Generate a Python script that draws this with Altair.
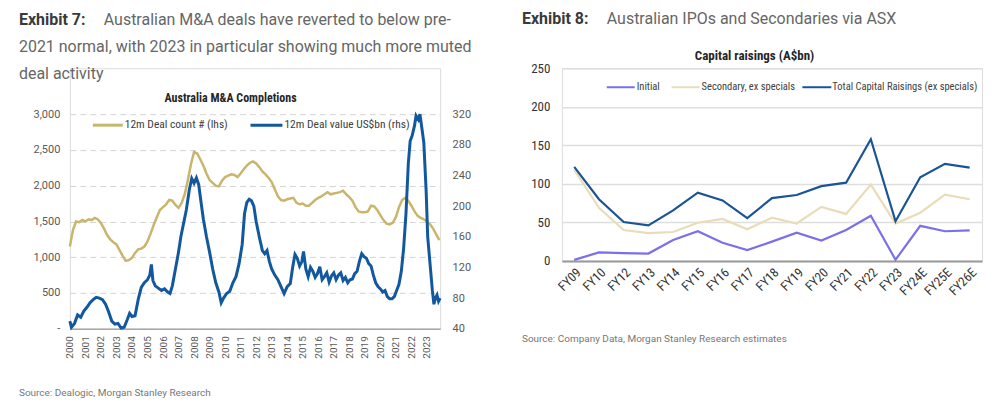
import altair as alt
import pandas as pd

# ---------------------------------------------------------------------------
# Exhibit 7: Australia M&A completions (rolling 12 months)
# ---------------------------------------------------------------------------
count_year = [
    2000.0, 2000.2, 2000.4, 2000.6, 2000.8, 2001.0, 2001.2, 2001.4, 2001.6, 2001.8,
    2002.0, 2002.2, 2002.4, 2002.6, 2002.8, 2003.0, 2003.2, 2003.4, 2003.6, 2003.8,
    2004.0, 2004.2, 2004.4, 2004.6, 2004.8, 2005.0, 2005.2, 2005.4, 2005.6, 2005.8,
    2006.0, 2006.2, 2006.4, 2006.6, 2006.8, 2007.0, 2007.2, 2007.4, 2007.6, 2007.8,
    2008.0, 2008.2, 2008.4, 2008.6, 2008.8, 2009.0, 2009.2, 2009.4, 2009.6, 2009.8,
    2010.0, 2010.2, 2010.4, 2010.6, 2010.8, 2011.0, 2011.2, 2011.4, 2011.6, 2011.8,
    2012.0, 2012.2, 2012.4, 2012.6, 2012.8, 2013.0, 2013.2, 2013.4, 2013.6, 2013.8,
    2014.0, 2014.2, 2014.4, 2014.6, 2014.8, 2015.0, 2015.2, 2015.4, 2015.6, 2015.8,
    2016.0, 2016.2, 2016.4, 2016.6, 2016.8, 2017.0, 2017.2, 2017.4, 2017.6, 2017.8,
    2018.0, 2018.2, 2018.4, 2018.6, 2018.8, 2019.0, 2019.2, 2019.4, 2019.6, 2019.8,
    2020.0, 2020.2, 2020.4, 2020.6, 2020.8, 2021.0, 2021.2, 2021.4, 2021.6, 2021.8,
    2022.0, 2022.2, 2022.4, 2022.6, 2022.8, 2023.0, 2023.2, 2023.4, 2023.6, 2023.8,
]
deal_count = [
    1150, 1380, 1500, 1490, 1520, 1500, 1530, 1520, 1550, 1530,
    1480, 1400, 1310, 1250, 1210, 1180, 1100, 1020, 950, 960,
    990, 1060, 1110, 1120, 1150, 1220, 1330, 1450, 1560, 1660,
    1700, 1740, 1800, 1790, 1730, 1690, 1760, 1880, 2080, 2300,
    2470, 2450, 2370, 2280, 2170, 2080, 2040, 2000, 1990, 2070,
    2120, 2140, 2160, 2150, 2120, 2170, 2230, 2280, 2320, 2340,
    2310, 2260, 2200, 2160, 2110, 2050, 1950, 1850, 1800, 1790,
    1810, 1820, 1830, 1760, 1740, 1750, 1720, 1720, 1760, 1800,
    1830, 1850, 1880, 1910, 1880, 1890, 1900, 1910, 1930, 1880,
    1840, 1790, 1700, 1640, 1630, 1630, 1640, 1720, 1710, 1660,
    1590, 1520, 1470, 1460, 1480, 1560, 1700, 1800, 1830, 1790,
    1720, 1640, 1580, 1550, 1530, 1500, 1460, 1400, 1320, 1240,
]

value_year = [
    2000.0, 2000.1, 2000.3, 2000.5, 2000.7, 2000.9, 2001.1, 2001.3, 2001.5, 2001.7,
    2001.9, 2002.1, 2002.3, 2002.5, 2002.7, 2002.9, 2003.1, 2003.3, 2003.5, 2003.7,
    2003.85, 2004.0, 2004.2, 2004.4, 2004.6, 2004.8, 2005.0, 2005.15, 2005.25, 2005.35,
    2005.5, 2005.7, 2005.9, 2006.1, 2006.3, 2006.45, 2006.6, 2006.8, 2007.0, 2007.15,
    2007.3, 2007.5, 2007.7, 2007.85, 2008.0, 2008.15, 2008.3, 2008.45, 2008.6, 2008.8,
    2009.0, 2009.2, 2009.4, 2009.6, 2009.75, 2009.9, 2010.1, 2010.3, 2010.5, 2010.7,
    2010.9, 2011.1, 2011.25, 2011.4, 2011.55, 2011.7, 2011.85, 2012.0, 2012.2, 2012.4,
    2012.55, 2012.7, 2012.85, 2013.0, 2013.2, 2013.4, 2013.6, 2013.8, 2014.0, 2014.2,
    2014.35, 2014.5, 2014.65, 2014.8, 2014.95, 2015.05, 2015.2, 2015.35, 2015.5, 2015.65,
    2015.8, 2015.95, 2016.1, 2016.25, 2016.4, 2016.55, 2016.7, 2016.85, 2017.0, 2017.15,
    2017.3, 2017.45, 2017.6, 2017.75, 2017.9, 2018.05, 2018.2, 2018.35, 2018.5, 2018.65,
    2018.8, 2018.95, 2019.1, 2019.25, 2019.4, 2019.55, 2019.7, 2019.85, 2020.0, 2020.15,
    2020.3, 2020.45, 2020.6, 2020.75, 2020.9, 2021.05, 2021.2, 2021.35, 2021.5, 2021.65,
    2021.8, 2021.92, 2022.05, 2022.2, 2022.3, 2022.45, 2022.55, 2022.7, 2022.8, 2022.95,
    2023.05, 2023.2, 2023.35, 2023.45, 2023.55, 2023.65, 2023.75, 2023.85,
]
deal_value = [
    50, 42, 47, 58, 55, 63, 68, 74, 78, 81,
    80, 78, 72, 62, 50, 46, 47, 41, 42, 52,
    60, 56, 57, 78, 94, 100, 104, 110, 124, 103,
    96, 93, 90, 92, 88, 86, 96, 118, 140, 160,
    175, 195, 222, 236, 230, 237, 228, 205, 183, 160,
    140, 118, 100, 88, 74, 80, 86, 89, 100, 108,
    125, 150, 190, 205, 209, 207, 200, 180, 160, 142,
    138, 142, 128, 118, 110, 104, 95, 86, 95, 99,
    120, 137, 132, 122, 128, 141, 118, 108, 120, 115,
    107, 112, 121, 104, 108, 113, 101, 109, 113, 104,
    110, 113, 103, 107, 100, 104, 105, 112, 115, 128,
    138, 134, 132, 125, 122, 110, 100, 95, 92, 88,
    90, 82, 79, 79, 82, 90, 98, 115, 145, 190,
    255, 285, 292, 305, 318, 313, 320, 298, 283, 220,
    160, 125, 90, 72, 80, 84, 76, 80,
]
year_ticks = list(range(2000, 2024))
count_ticks = [0, 500, 1000, 1500, 2000, 2500, 3000]
value_ticks = [40, 80, 120, 160, 200, 240, 280, 320]

# ---------------------------------------------------------------------------
# Exhibit 8: ASX capital raisings (A$bn)
# ---------------------------------------------------------------------------
fy_labels = ["FY09", "FY10", "FY12", "FY13", "FY14", "FY15", "FY16", "FY17", "FY18",
             "FY19", "FY20", "FY21", "FY22", "FY23", "FY24E", "FY25E", "FY26E"]
initial = [1.3, 11, 10, 9.5, 27, 38.5, 23.5, 14, 25, 36.5, 26.5, 40, 58.5, 1.5, 45.5, 38.5, 39.5]
secondary = [118.5, 69, 40, 36, 37.5, 49.5, 54.5, 41, 56, 48.5, 70, 61, 99, 48.5, 62.5, 86, 80]
total = [122, 80, 50.5, 46, 65.5, 88.5, 78.5, 55.5, 81.5, 85.5, 97, 101.5, 158, 51.5, 108.5, 126, 121]
series_names = ["Initial", "Secondary, ex specials", "Total Capital Raisings (ex specials)"]
raise_ticks = [0, 50, 100, 150, 200, 250]

# ---------------------------------------------------------------------------
GOLD = "#C9B66C"
BLUE = "#12589F"
PURPLE = "#7B6FEA"
BEIGE = "#E8DDB8"
NAVY = "#1A5495"
FONT = "Roboto"
COND = "Liberation Sans Narrow, Roboto Condensed, Roboto"

W1, H1, TOP1 = 371, 261, 46   # left panel group; plot area starts TOP1 px down
W2, H2 = 421, 193


def label(text, x, y, size=11, weight="normal", color="#404040", align="left", font=COND):
    return alt.Chart(pd.DataFrame({"t": [text]})).mark_text(
        align=align, baseline="middle", font=font, fontSize=size,
        fontWeight=weight, color=color,
    ).encode(text="t:N", x=alt.value(x), y=alt.value(y))


def swatch(color, x1, x2, y, width):
    return alt.Chart(pd.DataFrame({"k": [0]})).mark_rule(
        color=color, strokeWidth=width
    ).encode(x=alt.value(x1), x2=alt.value(x2), y=alt.value(y))


# ---- left panel -----------------------------------------------------------
count_df = pd.DataFrame({"year": count_year, "count": deal_count})
value_df = pd.DataFrame({"year": value_year, "value": deal_value})

x_year = alt.X(
    "year:Q", title=None,
    scale=alt.Scale(domain=[2000, 2023.85], nice=False, zero=False),
    axis=alt.Axis(values=year_ticks, format="d", labelAngle=-90, labelFontSize=10,
                  labelFont=FONT, labelColor="#595959", labelPadding=7,
                  labelFlush=False, labelOverlap=False, ticks=False, grid=False,
                  domainColor="#a6a6a6", domainWidth=1.5),
)

count_line = alt.Chart(count_df).mark_line(color=GOLD, strokeWidth=2.5).encode(
    x=x_year,
    y=alt.Y("count:Q", title=None,
            scale=alt.Scale(domain=[0, 3000], range=[H1, TOP1], nice=False),
            axis=alt.Axis(values=count_ticks, orient="left",
                          labelExpr="datum.value == 0 ? '-' : format(datum.value, ',')",
                          labelFontSize=11, labelFont=FONT, labelColor="#595959",
                          labelPadding=10, labelFlush=False, ticks=False, domain=False,
                          grid=True, gridDash=[6, 4], gridColor="#d4d4d4", gridWidth=1)),
)

value_line = alt.Chart(value_df).mark_line(color=BLUE, strokeWidth=3).encode(
    x=x_year,
    y=alt.Y("value:Q", title=None,
            scale=alt.Scale(domain=[40, 320], range=[H1, TOP1], nice=False, zero=False),
            axis=alt.Axis(values=value_ticks, orient="right", labelFontSize=11,
                          labelFont=FONT, labelColor="#595959", labelPadding=12,
                          labelFlush=False, ticks=False, domain=False, grid=False)),
)

# transparent frame that fixes the page extent to 1000 x 412
frame = alt.Chart(pd.DataFrame({"k": [0]})).mark_rect(opacity=0).encode(
    x=alt.value(-69), x2=alt.value(931), y=alt.value(-67), y2=alt.value(345)
)

left = alt.layer(
    frame,
    count_line,
    value_line,
    label("Exhibit 7:", -51, -48, size=16, weight="bold", color="#3a3a3a", font=FONT),
    label("Australian M&A deals have reverted to below pre-", 34, -48, size=16,
          color="#666666", font=FONT),
    label("2021 normal, with 2023 in particular showing much more muted", -51, -21,
          size=16, color="#666666", font=FONT),
    label("deal activity", -51, 6, size=16, color="#666666", font=FONT),
    label("Australia M&A Completions", 161, 30, size=12, weight="bold",
          color="#262626", align="center"),
    swatch(GOLD, 23, 53, 57, 3),
    label("12m Deal count # (lhs)", 55, 57, size=11.5, color="#404040"),
    swatch(BLUE, 181, 213, 57, 3),
    label("12m Deal value US$bn (rhs)", 215, 57, size=11.5, color="#404040"),
    label("Source: Dealogic, Morgan Stanley Research", -51, 325, size=10,
          color="#777777", font=FONT),
).resolve_scale(y="independent").properties(width=W1, height=H1)

# ---- right panel ----------------------------------------------------------
rows = []
for name, vals in zip(series_names, [initial, secondary, total]):
    for fy, v in zip(fy_labels, vals):
        rows.append({"fy": fy, "series": name, "value": v})
raise_df = pd.DataFrame(rows)

raise_lines = alt.Chart(raise_df).mark_line(strokeWidth=2.2).encode(
    x=alt.X("fy:N", sort=fy_labels, title=None,
            scale=alt.Scale(type="point", padding=0.5),
            axis=alt.Axis(labelAngle=-45, labelFontSize=13, labelFont=COND,
                          labelColor="#333333", labelPadding=5, ticks=False,
                          grid=False, domainColor="#9a9a9a", domainWidth=2)),
    y=alt.Y("value:Q", title=None,
            scale=alt.Scale(domain=[0, 250], nice=False),
            axis=alt.Axis(values=raise_ticks, labelFontSize=13, labelFont=COND,
                          labelColor="#333333", labelPadding=12, ticks=False,
                          domain=False, grid=True, gridColor="#dedede", gridWidth=1.5)),
    color=alt.Color("series:N", legend=None,
                    scale=alt.Scale(domain=series_names, range=[PURPLE, BEIGE, NAVY])),
    order=alt.Order("series:N"),
)

right = alt.layer(
    raise_lines,
    label("Exhibit 8:", -40, -49, size=16, weight="bold", color="#3a3a3a", font=FONT),
    label("Australian IPOs and Secondaries via ASX", 45, -49, size=16,
          color="#666666", font=FONT),
    label("Capital raisings (A$bn)", 193, -12, size=13, weight="bold",
          color="#262626", align="center"),
    swatch(PURPLE, 45, 73, 19, 2),
    label("Initial", 75, 19, size=10.5, color="#404040"),
    swatch(BEIGE, 110, 138, 19, 2),
    label("Secondary, ex specials", 140, 19, size=10.5, color="#404040"),
    swatch(NAVY, 241, 270, 19, 2),
    label("Total Capital Raisings (ex specials)", 271, 19, size=10.5, color="#404040"),
    label("Source: Company Data, Morgan Stanley Research estimates", -40, 271, size=10,
          color="#777777", font=FONT),
).properties(width=W2, height=H2)

chart = alt.hconcat(left, right, spacing=122, bounds="flush").properties(
    padding=0
).configure_view(stroke=None).configure(background="white")

chart.save("out.html", embed_options={"renderer": "svg", "actions": False})
